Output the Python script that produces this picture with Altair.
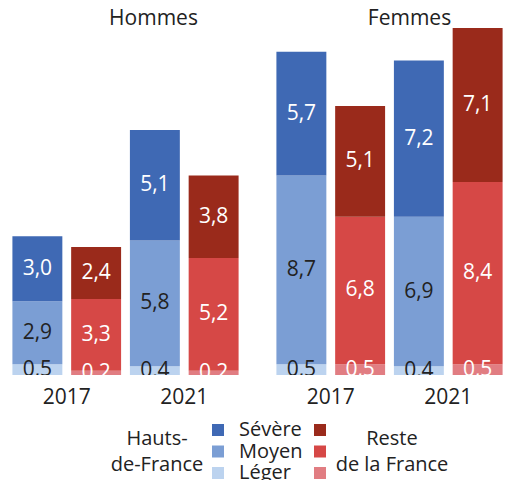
import altair as alt
import pandas as pd

sexes = ["Hommes"] * 4 + ["Femmes"] * 4
years = ["2017", "2017", "2021", "2021"] * 2
regions = ["Hauts-de-France", "Reste de la France"] * 4
leger = [0.5, 0.2, 0.4, 0.2, 0.5, 0.5, 0.4, 0.5]
moyen = [2.9, 3.3, 5.8, 5.2, 8.7, 6.8, 6.9, 8.4]
severe = [3.0, 2.4, 5.1, 3.8, 5.7, 5.1, 7.2, 7.1]

severities = ["Sévère", "Moyen", "Léger"]
region_order = ["Hauts-de-France", "Reste de la France"]
blues = ["#3f69b4", "#7b9ed4", "#bcd3ef"]
reds = ["#9a2a1b", "#d64846", "#e17d82"]

rows = []
for i in range(len(sexes)):
    for k, (sev, vals) in enumerate([("Léger", leger), ("Moyen", moyen), ("Sévère", severe)]):
        rows.append({"sex": sexes[i], "year": years[i], "region": regions[i],
                     "severity": sev, "order": k, "value": vals[i]})
df = pd.DataFrame(rows)

FONT = "Open Sans"
DARK = "#222222"
PW = 235
PH = 347


def panel(sex, title_dx, show_legend):
    base = alt.Chart(df[df.sex == sex]).transform_stack(
        stack="value", groupby=["year", "region"], as_=["v0", "v1"],
        sort=[alt.SortField("order", order="ascending")]
    ).transform_calculate(
        mid="(datum.v0 + datum.v1) / 2",
        label="replace(format(datum.value, '.1f'), '.', ',')"
    )
    x = alt.X("year:N", title=None,
              scale=alt.Scale(paddingInner=0, paddingOuter=0),
              axis=alt.Axis(labelFontSize=21, labelColor=DARK, labelFont=FONT,
                            domain=False, ticks=False, labelPadding=11, labelAngle=0))
    xo = alt.XOffset("region:N", scale=alt.Scale(domain=region_order,
                                                  paddingInner=0.15, paddingOuter=0.075))
    y0 = alt.Y("v0:Q", scale=alt.Scale(domain=[0, 16], nice=False), axis=None)

    def leg(kind):
        if not show_legend:
            return None
        if kind == "blue":
            return alt.Legend(
                orient="none", legendX=103, legendY=392, direction="vertical",
                title=["Hauts-", "de-France"], titleOrient="left", titleAlign="center",
                titleAnchor="middle", titleFontSize=20, titleFontWeight="normal",
                titleColor=DARK, titleFont=FONT, titlePadding=-42, titleLineHeight=26,
                symbolType="square", symbolSize=144, symbolStrokeWidth=0,
                labelFontSize=20, labelColor=DARK, labelFont=FONT, labelOffset=11,
                rowPadding=1.5)
        return alt.Legend(
            orient="none", legendX=302, legendY=392, direction="vertical",
            title=["Reste", "de la France"], titleOrient="right", titleAlign="center",
            titleAnchor="middle", titleFontSize=20, titleFontWeight="normal",
            titleColor=DARK, titleFont=FONT, titlePadding=62, titleLineHeight=26,
            symbolType="square", symbolSize=144, symbolStrokeWidth=0,
            labelExpr="''", labelFontSize=20, labelOffset=0,
            rowPadding=1.5)

    bars_b = base.transform_filter(alt.datum.region == "Hauts-de-France").mark_bar(
        cornerRadius=0).encode(
        x=x, xOffset=xo, y=y0, y2="v1:Q",
        color=alt.Color("severity:N", scale=alt.Scale(domain=severities, range=blues),
                        legend=leg("blue")))
    bars_r = base.transform_filter(alt.datum.region == "Reste de la France").mark_bar(
        cornerRadius=0).encode(
        x=x, xOffset=xo, y=y0, y2="v1:Q",
        color=alt.Color("severity:N", scale=alt.Scale(domain=severities, range=reds),
                        legend=leg("red")))
    text = base.mark_text(fontSize=21, font=FONT, clip=True).encode(
        x=x, xOffset=xo,
        y=alt.Y("mid:Q", scale=alt.Scale(domain=[0, 16], nice=False), axis=None),
        text="label:N",
        color=alt.condition(
            "datum.region == 'Reste de la France' || datum.severity == 'Sévère'",
            alt.value("white"), alt.value(DARK)))
    return alt.layer(bars_b, bars_r, text).resolve_scale(color="independent").properties(
        width=PW, height=PH,
        title=alt.TitleParams(sex, fontSize=21, font=FONT, fontWeight="normal",
                              color=DARK, dx=title_dx, offset=-1))


chart = alt.hconcat(panel("Hommes", 28, True), panel("Femmes", 20, False), spacing=29,
                    bounds="flush").resolve_scale(
    color="independent").properties(padding={"left": 0, "top": 0, "right": 0, "bottom": 0}).configure_view(
    stroke=None)

chart.save("out.html", embed_options={"renderer": "svg", "actions": False})
